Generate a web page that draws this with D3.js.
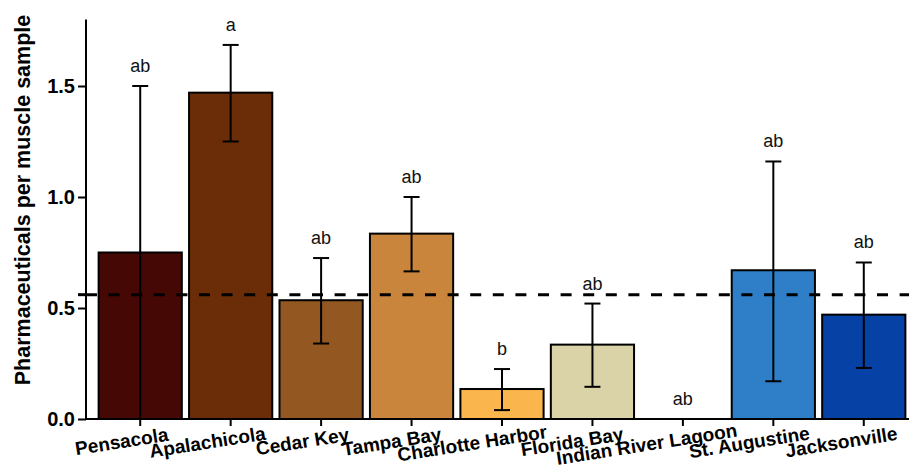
<!DOCTYPE html>
<html>
<head>
<meta charset="utf-8">
<script src="https://cdn.jsdelivr.net/npm/d3@7"></script>
<style>
    body { margin: 0; background: #fff; }
    svg { display: block; }
</style>
</head>
<body>
<svg id="main"></svg>
<script>
const width = 909;
const height = 470;

// data
const sites = ['Pensacola', 'Apalachicola', 'Cedar Key', 'Tampa Bay', 'Charlotte Harbor',
    'Florida Bay', 'Indian River Lagoon', 'St. Augustine', 'Jacksonville'];
const means = [0.75, 1.47, 0.535, 0.835, 0.135, 0.335, 0, 0.67, 0.47];
const errLow = [0, 1.25, 0.34, 0.665, 0.04, 0.145, 0, 0.17, 0.23];
const errHigh = [1.5, 1.685, 0.725, 1.0, 0.225, 0.52, 0, 1.16, 0.705];
const letters = ['ab', 'a', 'ab', 'ab', 'b', 'ab', 'ab', 'ab', 'ab'];
const colors = ['#450805', '#6a2d07', '#935722', '#c8853b', '#fbb54d',
    '#dad3a8', 'none', '#2f7ec8', '#0642a6'];
const yTicks = [0, 0.5, 1.0, 1.5];
const overallMean = 0.56;

const font = '"Liberation Sans", Arial, sans-serif';

const svg = d3.select('svg#main')
    .attr('width', width)
    .attr('height', height);

const x = d3.scaleBand()
    .domain(sites)
    .range([95, 909])
    .paddingInner(0.08)
    .paddingOuter(0.04);

const y = d3.scaleLinear()
    .domain([0, 1.8])
    .range([419, 19.4]);

const axisX = 86;

// BARS -------------------------------------------
const data = sites.map((s, i) => ({
    site: s, mean: means[i], lo: errLow[i], hi: errHigh[i], letter: letters[i], color: colors[i]
}));

svg.append('g').selectAll('rect')
    .data(data.filter(d => d.mean > 0))
    .enter().append('rect')
    .attr('x', d => x(d.site))
    .attr('y', d => y(d.mean))
    .attr('width', x.bandwidth())
    .attr('height', d => y(0) - y(d.mean))
    .attr('fill', d => d.color)
    .attr('stroke', '#000')
    .attr('stroke-width', 2);

// error bars
const eb = svg.append('g')
    .attr('stroke', '#000')
    .attr('stroke-width', 2)
    .selectAll('g')
    .data(data.filter(d => d.hi > 0))
    .enter().append('g')
    .attr('transform', d => `translate(${x(d.site) + x.bandwidth() / 2},0)`);
eb.append('line')
    .attr('y1', d => y(d.lo))
    .attr('y2', d => y(d.hi));
eb.append('line')
    .attr('x1', -8).attr('x2', 8)
    .attr('y1', d => y(d.hi)).attr('y2', d => y(d.hi));
eb.append('line')
    .attr('x1', -8).attr('x2', 8)
    .attr('y1', d => y(d.lo)).attr('y2', d => y(d.lo));

// significance letters
svg.append('g').selectAll('text')
    .data(data)
    .enter().append('text')
    .text(d => d.letter)
    .attr('x', d => x(d.site) + x.bandwidth() / 2)
    .attr('y', d => y(d.hi) - 14)
    .attr('text-anchor', 'middle')
    .style('font-family', font)
    .style('font-size', '18px')
    .style('fill', '#111');

// dashed mean line
svg.append('line')
    .attr('x1', 78).attr('x2', axisX)
    .attr('y1', y(overallMean)).attr('y2', y(overallMean))
    .attr('stroke', '#000').attr('stroke-width', 3);
svg.append('line')
    .attr('x1', axisX).attr('x2', width)
    .attr('y1', y(overallMean)).attr('y2', y(overallMean))
    .attr('stroke', '#000')
    .attr('stroke-width', 3)
    .attr('stroke-dasharray', '11,11.6');

// AXES -------------------------------------------
const yAxis = svg.append('g')
    .attr('transform', `translate(${axisX},0)`)
    .call(d3.axisLeft(y).tickValues(yTicks).tickFormat(d3.format('.1f')).tickSize(8).tickPadding(3));
yAxis.select('.domain').attr('d', `M0,${y(1.8)}V${y(0)}`).attr('stroke-width', 2);
yAxis.selectAll('.tick line').attr('stroke-width', 2);
yAxis.selectAll('.tick text')
    .style('font-family', font)
    .style('font-size', '20px')
    .style('font-weight', 'bold')
    .attr('fill', '#000');

const xAxis = svg.append('g')
    .attr('transform', `translate(0,${y(0)})`);
xAxis.append('line')
    .attr('x1', axisX - 1).attr('x2', width)
    .attr('stroke', '#000').attr('stroke-width', 2);
xAxis.selectAll('.xt')
    .data(sites)
    .enter().append('line')
    .attr('class', 'xt')
    .attr('x1', d => x(d) + x.bandwidth() / 2)
    .attr('x2', d => x(d) + x.bandwidth() / 2)
    .attr('y1', 0).attr('y2', 7)
    .attr('stroke', '#000').attr('stroke-width', 2);

// rotated site labels, pivot ~30% from the right end of each label
const labelY = 445;
svg.append('g').selectAll('text')
    .data(sites)
    .enter().append('text')
    .text(d => d)
    .attr('text-anchor', 'start')
    .style('font-family', font)
    .style('font-size', '19px')
    .style('font-weight', 'bold')
    .each(function (d) {
        const w = this.getComputedTextLength();
        const cx = x(d) + x.bandwidth() / 2 + 1;
        d3.select(this)
            .attr('x', cx - 0.7 * w)
            .attr('y', labelY)
            .attr('transform', `rotate(-9 ${cx} ${labelY})`);
    });

// y title
svg.append('text')
    .text('Pharmaceuticals per muscle sample')
    .attr('transform', 'translate(30,200) rotate(-90)')
    .attr('text-anchor', 'middle')
    .style('font-family', font)
    .style('font-size', '21.5px')
    .style('font-weight', 'bold');
</script>
</body>
</html>
